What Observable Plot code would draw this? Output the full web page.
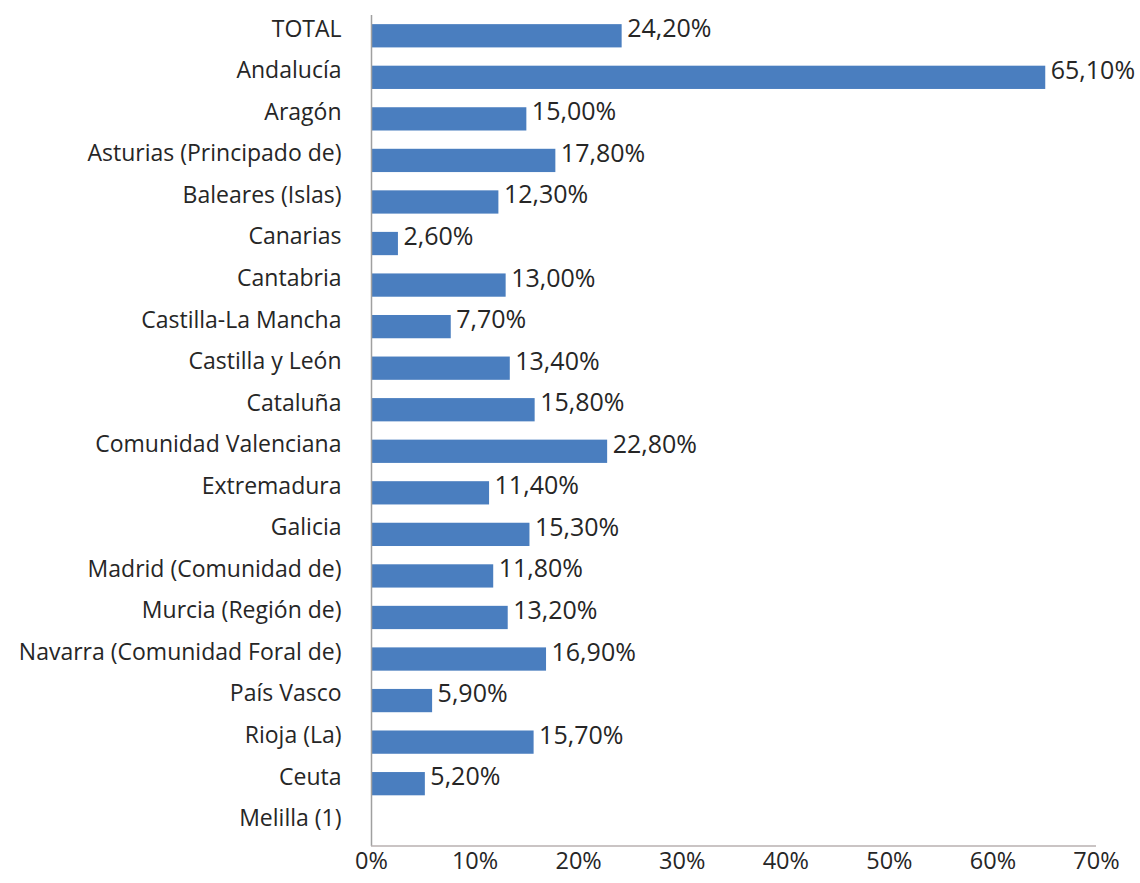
<!DOCTYPE html>
<html><head><meta charset="utf-8">
<script src="https://cdn.jsdelivr.net/npm/d3@7"></script>
<script src="https://cdn.jsdelivr.net/npm/@observablehq/plot@0.6"></script>
<style>body{margin:0;background:#fff}svg{display:block}</style>
</head><body><div id="chart"></div>
<script>
const regions = ["TOTAL","Andalucía","Aragón","Asturias (Principado de)","Baleares (Islas)","Canarias","Cantabria","Castilla-La Mancha","Castilla y León","Cataluña","Comunidad Valenciana","Extremadura","Galicia","Madrid (Comunidad de)","Murcia (Región de)","Navarra (Comunidad Foral de)","País Vasco","Rioja (La)","Ceuta","Melilla (1)"];
const values = [24.2,65.1,15.0,17.8,12.3,2.6,13.0,7.7,13.4,15.8,22.8,11.4,15.3,11.8,13.2,16.9,5.9,15.7,5.2,null];
const xTicks = [0,10,20,30,40,50,60,70];
const data = regions.map((r,i)=>({region:r, value:values[i]}));
const fmt = v => v.toFixed(2).replace(".", ",") + "%";
const shown = data.filter(d=>d.value!=null);
const chart = Plot.plot({
  width:1140, height:883,
  marginLeft:371, marginRight:44, marginTop:15, marginBottom:37,
  style:{fontFamily:"'Open Sans', sans-serif", color:"#262626", background:"#fff"},
  x:{domain:[0,70], label:null},
  y:{domain:regions, paddingInner:0.44, paddingOuter:0.22, round:false, label:null},
  marks:[
    Plot.axisY({tickSize:0, tickPadding:30, fontSize:23, dy:-7, fill:"#262626", label:null}),
    Plot.axisX({ticks:xTicks, tickFormat:d=>d+"%", tickSize:0, tickPadding:6, fontSize:23.5, fill:"#262626", label:null}),
    Plot.barX(shown,{x:"value", y:"region", fill:"#4a7ebf"}),
    Plot.text(shown,{x:"value", y:"region", text:d=>fmt(d.value), textAnchor:"start", dx:5, dy:-7, fill:"#262626", fontSize:25}),
    Plot.ruleX([0],{stroke:"#a0a0a0", strokeWidth:1.5})
  ]
});
document.getElementById("chart").appendChild(chart);
const svg = d3.select(chart);
const sx = chart.scale("x");
svg.append("line").attr("x1", sx.apply(0)).attr("x2", sx.apply(70)).attr("y1", 883-37).attr("y2", 883-37).attr("stroke","#b8b0b0").attr("stroke-width",1.5);
</script>
</body></html>
